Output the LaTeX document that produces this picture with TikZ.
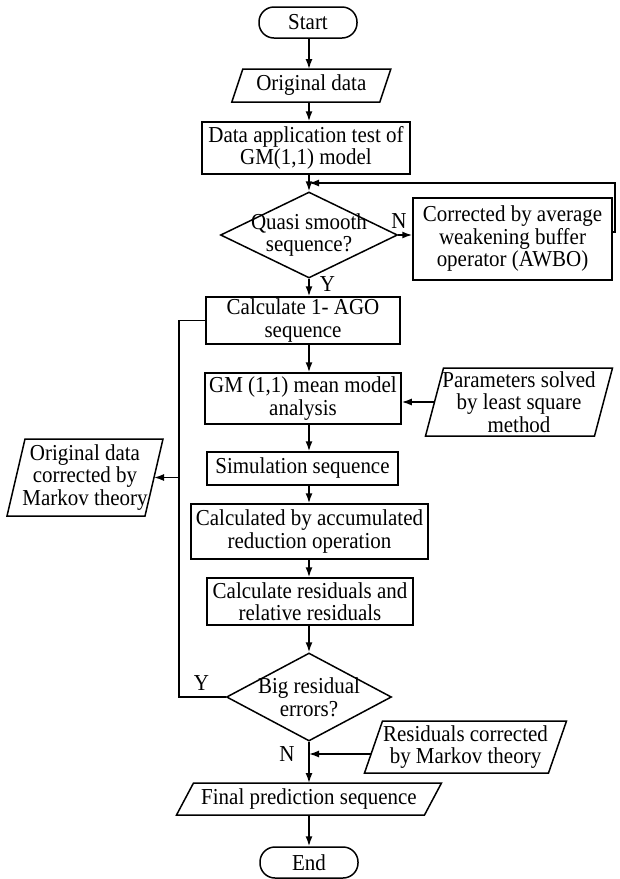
\documentclass[tikz,border=0pt]{standalone}
\usepackage{fontspec}
\setmainfont{Liberation Serif}[FakeStretch=0.92]
\usetikzlibrary{shapes.geometric,arrows.meta}
\newcommand\drawslant[2]{\draw ([xshift=-#2]#1.south west) -- ([xshift=#2]#1.north west) -- ([xshift=#2]#1.north east) -- ([xshift=-#2]#1.south east) -- cycle;}
\begin{document}
\begin{tikzpicture}[x=1pt,y=-1pt,
  font=\fontsize{22.8pt}{22.5pt}\selectfont,
  line width=1.5pt,
  every node/.style={inner sep=0pt, align=center},
  box/.style 2 args={draw, rectangle, minimum width=#1, minimum height=#2},
  io/.style 2 args={rectangle, outer sep=0pt, minimum width=#1, minimum height=#2},
  term/.style={draw, rounded corners=15pt, minimum width=98pt, minimum height=31pt},
  dec/.style 2 args={draw, diamond, minimum width=#1, minimum height=#2},
  arr/.style={-{Latex[length=10pt,width=7pt]}},
  lab/.style={}
]
\useasboundingbox (0,0) rectangle (620,879);
\coordinate (col) at (309,0);
\coordinate (lx) at (179,0);
\coordinate (rx) at (615,0);
\coordinate (fb) at (309,183);

\node[term] (start) at (308,22.5) {Start};
\node[io={148pt}{33pt}] (orig) at (311.3,85.5) {Original data};
\drawslant{orig}{5.5pt}
\node[box={208pt}{52pt}] (dat) at (306,148) {Data application test of\\GM(1,1) model};
\node[dec={177pt}{86pt}, label={[align=center]center:Quasi smooth\\sequence?}] (q) at (309,235) {};
\node[box={199pt}{82pt}] (awbo) at (512.5,239) {Corrected by average\\weakening buffer\\operator (AWBO)};
\node[box={194pt}{47pt}] (ago) at (303,320.5) {Calculate 1- AGO\\sequence};
\node[box={196pt}{51pt}] (gm) at (303,398.5) {GM (1,1) mean model\\analysis};
\node[io={169pt}{68pt}] (param) at (519,402) {Parameters solved\\by least square\\method};
\drawslant{param}{9pt}
\node[io={138pt}{77pt}] (mark) at (85,477.5) {Original data\\corrected by\\Markov theory};
\drawslant{mark}{9pt}
\node[box={191pt}{33pt}] (sim) at (302.5,468.5) {Simulation sequence};
\node[box={237pt}{55pt}] (calc) at (309.5,531.5) {Calculated by accumulated\\reduction operation};
\node[box={206pt}{47pt}] (res) at (310,601.5) {Calculate residuals and\\relative residuals};
\node[dec={165pt}{88pt}, label={[align=center]center:Big residual\\errors?}] (big) at (309,697) {};
\node[io={184pt}{52pt}] (rescorr) at (465.5,747) {Residuals corrected\\by Markov theory};
\drawslant{rescorr}{9pt}
\node[io={248pt}{32pt}] (final) at (309,799) {Final prediction sequence};
\drawslant{final}{8.5pt}
\node[term] (end) at (309,862.5) {End};

\node[lab] (nq) at (399,221) {N};
\node[lab] (yq) at (327.5,284) {Y};
\node[lab] (yb) at (201.5,683) {Y};
\node[lab] (nb) at (287,754.5) {N};

\draw[arr] (start.south -| col) -- (orig.north -| col);
\draw[arr] (orig.south -| col) -- (dat.north -| col);
\draw[arr] (dat.south -| col) -- (q.north);
\draw[arr] (q.east) -- (q.east -| awbo.west);
\coordinate (aout) at ([yshift=7pt]awbo.east);
\draw[arr] (aout) -- (aout -| rx) -- (fb -| rx) -- (fb);
\draw[arr] (q.south) -- (ago.north -| col);
\draw (ago.west) -- (ago.west -| lx) -- (big.west -| lx) -- (big.west);
\draw[arr] (mark.east -| lx) -- (mark.east);
\draw[arr] (ago.south -| col) -- (gm.north -| col);
\draw[arr] (param.west) -- (param.west -| gm.east);
\draw[arr] (gm.south -| col) -- (sim.north -| col);
\draw[arr] (sim.south -| col) -- (calc.north -| col);
\draw[arr] (calc.south -| col) -- (res.north -| col);
\draw[arr] (res.south -| col) -- (big.north);
\draw[arr] (big.south) -- (final.north -| col);
\coordinate (rcin) at ([shift={(-2.4pt,-7pt)}]rescorr.west);
\draw[arr] (rcin) -- (rcin -| col);
\draw[arr] (final.south -| col) -- (end.north -| col);
\end{tikzpicture}
\end{document}
